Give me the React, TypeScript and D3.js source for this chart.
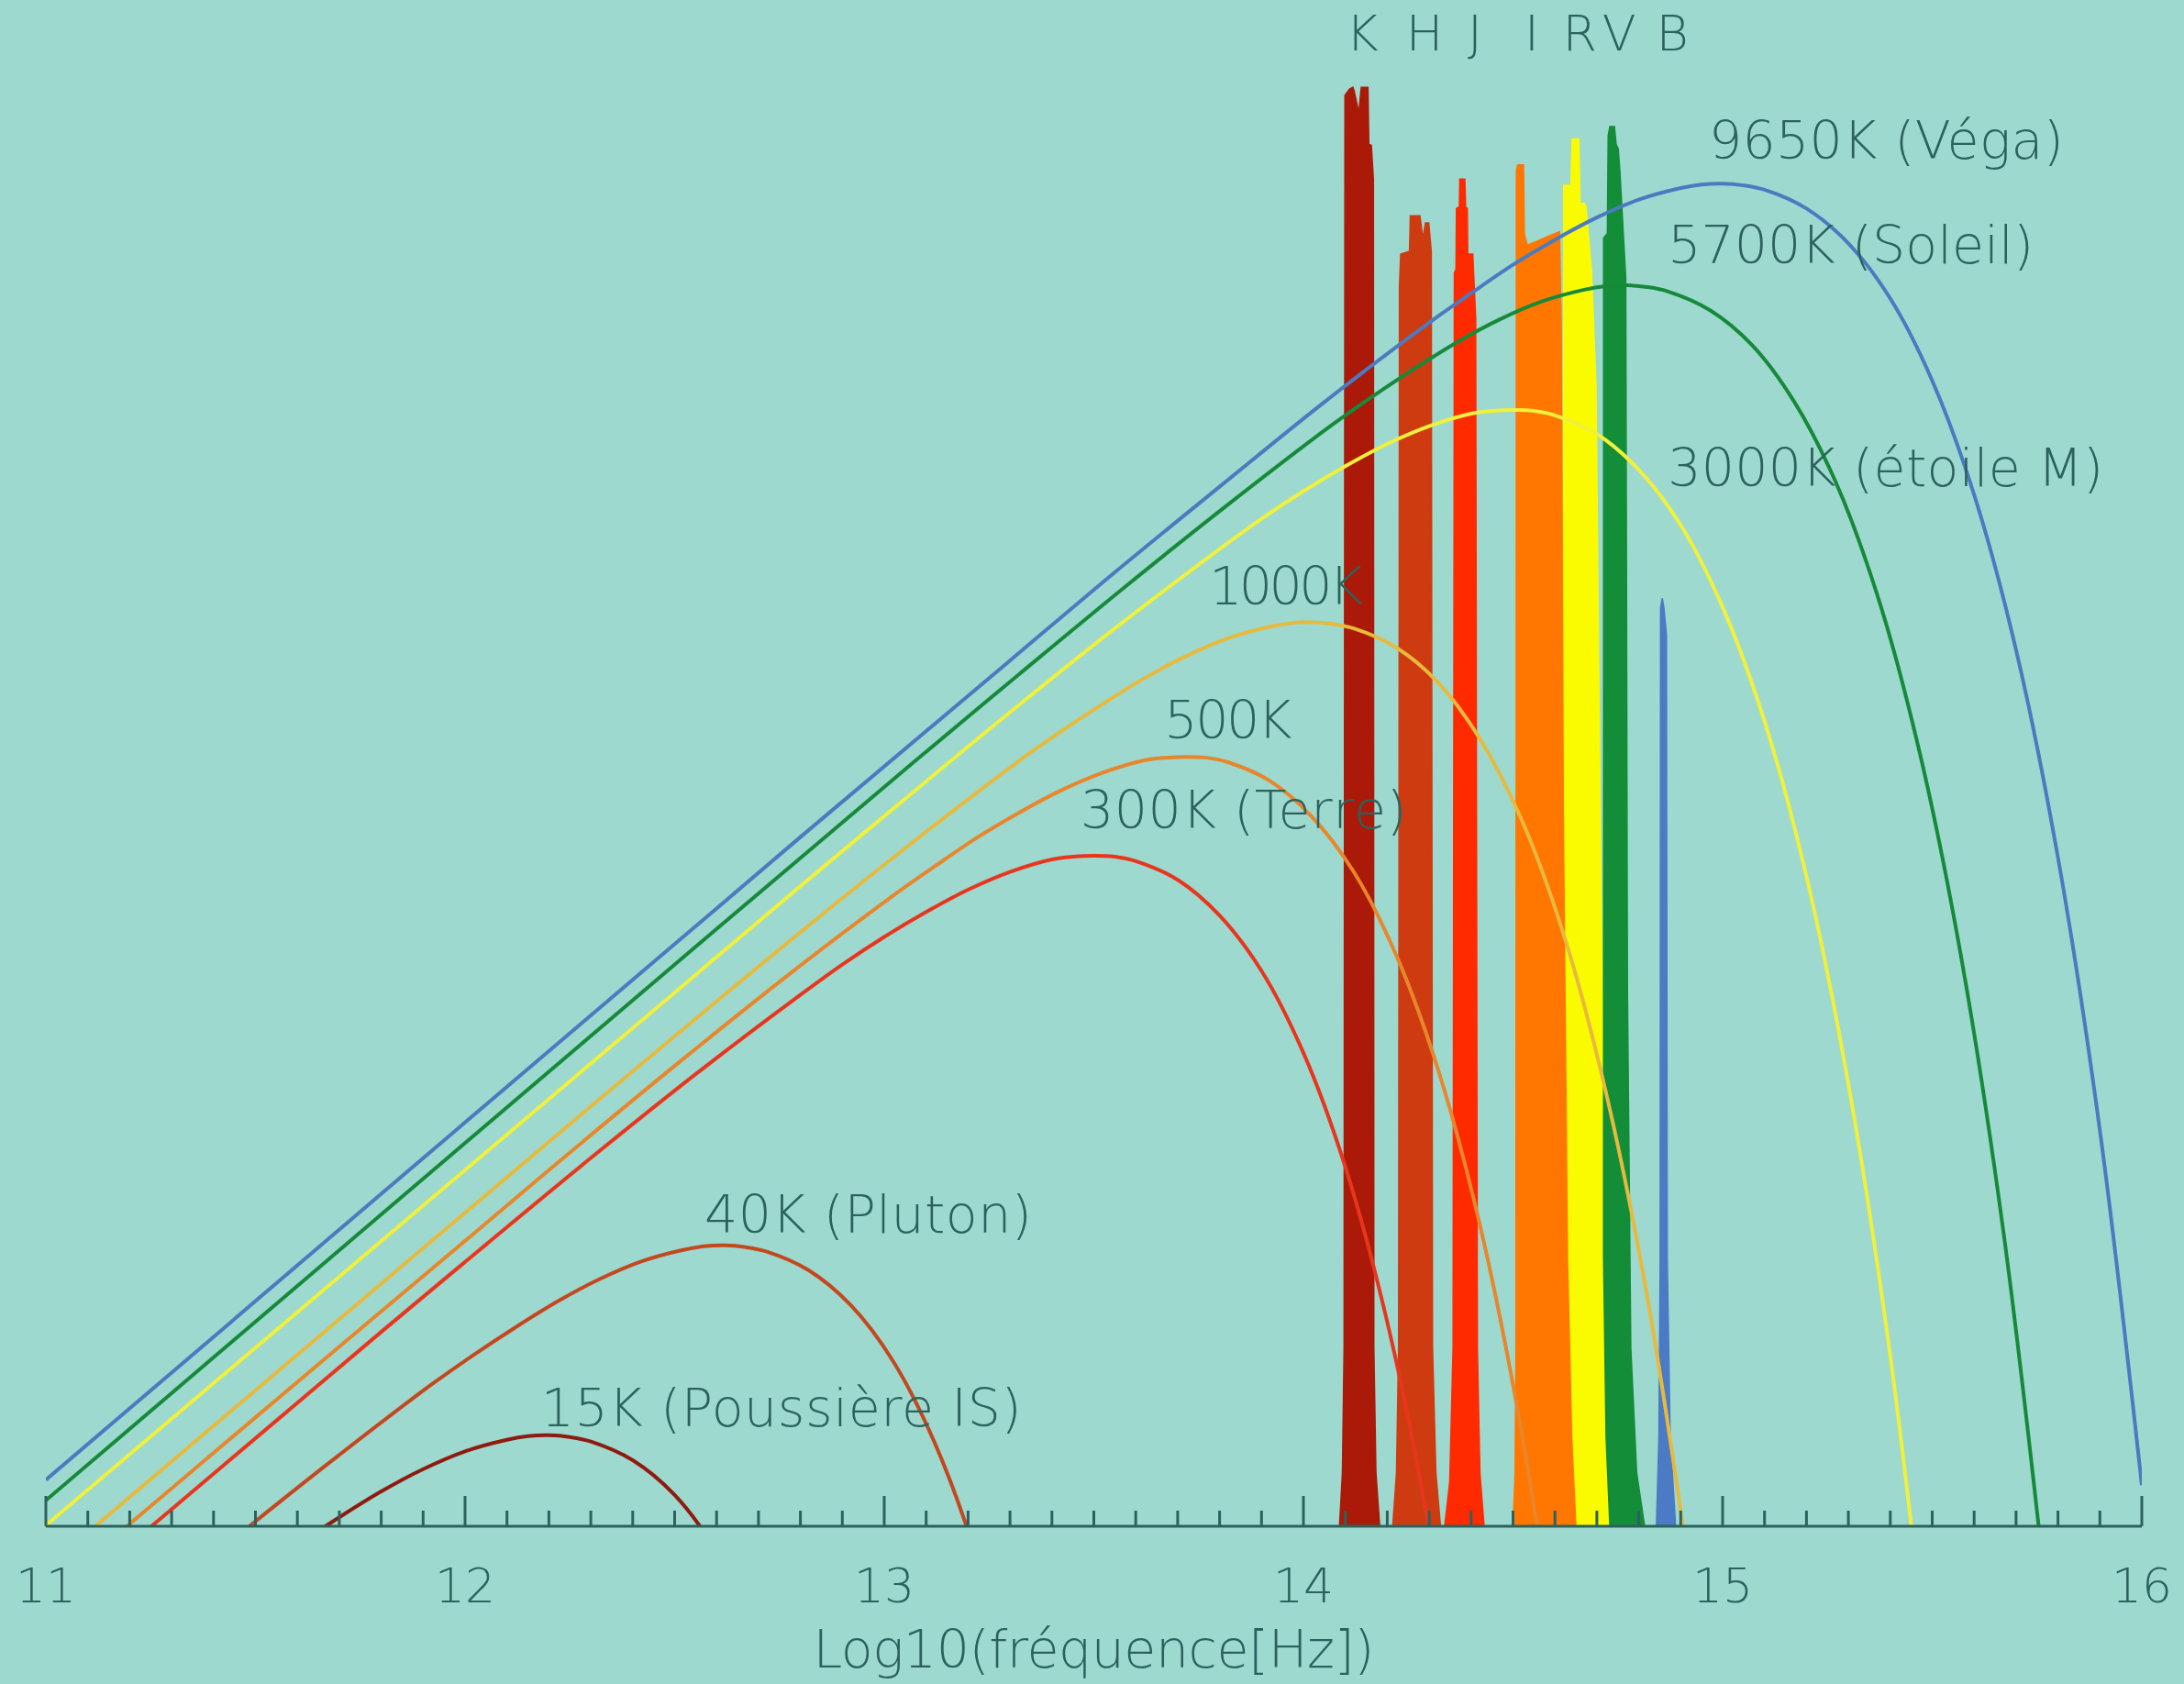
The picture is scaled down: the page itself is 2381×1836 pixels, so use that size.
import React from 'react';
import * as d3 from 'd3';

// ---- Data (x = log10 frequency [Hz], v = log10 intensity, arbitrary zero at the axis) ----
const curve9650: number[][] = [[11.00,0.52],[12.80,7.73],[13.30,9.71],[13.55,10.70],[13.80,11.66],[14.05,12.61],[14.30,13.50],[14.40,13.83],[14.50,14.15],[14.60,14.43],[14.70,14.68],[14.80,14.88],[14.90,15.01],[14.95,15.05],[15.00,15.06],[15.05,15.04],[15.10,14.99],[15.20,14.78],[15.30,14.39],[15.40,13.77],[15.50,12.85],[15.60,11.57],[15.70,9.83],[15.80,7.50],[15.90,4.44],[16.00,0.46]];
const curve5700: number[][] = [[11.00,0.29],[12.57,6.58],[13.07,8.57],[13.32,9.55],[13.57,10.52],[13.82,11.46],[14.07,12.36],[14.17,12.69],[14.27,13.00],[14.37,13.29],[14.47,13.54],[14.57,13.74],[14.67,13.87],[14.72,13.91],[14.77,13.92],[14.82,13.90],[14.87,13.85],[14.97,13.64],[15.07,13.25],[15.17,12.62],[15.27,11.71],[15.37,10.43],[15.47,8.68],[15.57,6.36],[15.67,3.30],[15.77,-0.68]];
const curve3000: number[][] = [[11.00,0.01],[12.30,5.19],[12.80,7.18],[13.05,8.16],[13.30,9.13],[13.55,10.07],[13.80,10.96],[13.90,11.30],[14.00,11.61],[14.10,11.89],[14.20,12.14],[14.30,12.34],[14.40,12.48],[14.45,12.51],[14.50,12.52],[14.55,12.51],[14.60,12.46],[14.70,12.25],[14.80,11.85],[14.90,11.23],[15.00,10.31],[15.10,9.03],[15.20,7.29],[15.30,4.96],[15.40,1.91],[15.50,-2.07]];
const curve1000: number[][] = [[11.00,-0.47],[11.82,2.80],[12.32,4.79],[12.57,5.77],[12.82,6.74],[13.07,7.68],[13.32,8.58],[13.42,8.91],[13.52,9.22],[13.62,9.51],[13.72,9.76],[13.82,9.96],[13.92,10.09],[13.97,10.13],[14.02,10.14],[14.07,10.12],[14.12,10.07],[14.22,9.86],[14.32,9.47],[14.42,8.84],[14.52,7.93],[14.62,6.65],[14.72,4.90],[14.82,2.58],[14.92,-0.48]];
const curve500: number[][] = [[11.00,-0.77],[11.52,1.30],[12.02,3.28],[12.27,4.27],[12.52,5.24],[12.77,6.18],[13.02,7.07],[13.12,7.40],[13.22,7.72],[13.32,8.00],[13.42,8.25],[13.52,8.45],[13.62,8.59],[13.67,8.62],[13.72,8.63],[13.77,8.62],[13.82,8.57],[13.92,8.36],[14.02,7.96],[14.12,7.34],[14.22,6.42],[14.32,5.14],[14.42,3.40],[14.52,1.07],[14.62,-1.98]];
const curve300: number[][] = [[11.00,-0.99],[11.30,0.19],[11.80,2.18],[12.05,3.16],[12.30,4.13],[12.55,5.07],[12.80,5.96],[12.90,6.30],[13.00,6.61],[13.10,6.89],[13.20,7.14],[13.30,7.34],[13.40,7.48],[13.45,7.51],[13.50,7.52],[13.55,7.51],[13.60,7.46],[13.70,7.25],[13.80,6.85],[13.90,6.23],[14.00,5.31],[14.10,4.03],[14.20,2.29],[14.30,-0.04],[14.40,-3.09]];
const curve40: number[][] = [[11.00,-1.89],[11.17,-1.22],[11.42,-0.25],[11.67,0.69],[11.92,1.59],[12.02,1.92],[12.12,2.23],[12.22,2.52],[12.32,2.77],[12.42,2.97],[12.52,3.10],[12.57,3.14],[12.62,3.15],[12.67,3.13],[12.72,3.08],[12.82,2.87],[12.92,2.48],[13.02,1.86],[13.12,0.94],[13.22,-0.34],[13.32,-2.09]];
const curve15: number[][] = [[11.00,-2.36],[11.25,-1.44],[11.50,-0.54],[11.60,-0.21],[11.70,0.10],[11.80,0.39],[11.90,0.64],[12.00,0.84],[12.10,0.97],[12.15,1.01],[12.20,1.02],[12.25,1.00],[12.30,0.95],[12.40,0.74],[12.50,0.35],[12.60,-0.28],[12.70,-1.19]];

// photometric band profiles (filled)
const bandK: number[][] = [[14.086,0],[14.093,0.6],[14.097,2],[14.099,16.05],[14.110,16.12],[14.118,16.14],[14.121,16.1],[14.130,15.9],[14.133,15.9],[14.138,16.14],[14.154,16.14],[14.156,15.5],[14.162,15.49],[14.167,15.1],[14.168,2],[14.173,0.6],[14.182,0]];
const bandH: number[][] = [[14.213,0],[14.222,0.6],[14.227,2],[14.229,13.9],[14.232,14.27],[14.253,14.30],[14.255,14.70],[14.278,14.70],[14.285,14.44],[14.291,14.62],[14.299,14.62],[14.305,14.3],[14.308,2],[14.316,0.6],[14.327,0]];
const bandJ: number[][] = [[14.337,0],[14.349,0.5],[14.357,2],[14.360,14.06],[14.364,14.1],[14.365,14.78],[14.372,14.80],[14.373,15.11],[14.385,15.11],[14.387,14.80],[14.391,14.78],[14.392,14.27],[14.404,14.27],[14.406,14.06],[14.411,13.55],[14.415,2],[14.421,0.6],[14.431,0]];
const bandR: number[][] = [[14.618,0],[14.620,2],[14.621,15.04],[14.638,15.04],[14.641,15.56],[14.657,15.56],[14.660,14.84],[14.670,14.84],[14.674,14.8],[14.687,14.1],[14.698,12.8],[14.708,8],[14.718,4],[14.726,1.5],[14.733,0]];
const bandI: number[][] = [[14.500,0],[14.505,0.6],[14.507,2],[14.508,15.2],[14.511,15.27],[14.525,15.27],[14.527,14.5],[14.534,14.37],[14.55,14.40],[14.57,14.44],[14.59,14.48],[14.611,14.52],[14.615,13.5],[14.620,8],[14.630,3],[14.640,1],[14.650,0]];
const bandV: number[][] = [[14.731,0],[14.722,1],[14.716,3],[14.716,14.45],[14.725,14.5],[14.727,15.6],[14.731,15.70],[14.742,15.70],[14.746,15.5],[14.751,15.45],[14.755,15.2],[14.769,14.0],[14.773,6],[14.781,2],[14.795,0.6],[14.814,0]];
const bandB: number[][] = [[14.842,0],[14.848,1],[14.851,3],[14.852,10.3],[14.856,10.41],[14.860,10.3],[14.866,10.0],[14.868,3],[14.875,1],[14.888,0]];

const bandLetters = ['K', 'H', 'J', 'I', 'R', 'V', 'B'];
const bandLetterX = [14.140, 14.289, 14.409, 14.545, 14.659, 14.753, 14.880];

const xTickValues = [11, 12, 13, 14, 15, 16];

const curveLabels = ['9650K (Véga)', '5700K (Soleil)', '3000K (étoile M)', '1000K', '500K', '300K (Terre)', '40K (Pluton)', '15K (Poussière IS)'];

// ---- layout / style ----
const W = 2381, H = 1836;
const BG = '#9dd9cf';
const INK = '#2c625e';
const FONT = '"DejaVu Sans", sans-serif';

const curves = [
  { d: curve15, color: '#8f1b10' },
  { d: curve40, color: '#c4481f' },
  { d: curve300, color: '#e8361e' },
  { d: curve500, color: '#e8862c' },
  { d: curve1000, color: '#e7ba3e' },
  { d: curve3000, color: '#f1f03a' },
  { d: curve5700, color: '#17893a' },
  { d: curve9650, color: '#4a7bc0' },
];

const bands = [
  { d: bandK, color: '#ab1a08' },
  { d: bandH, color: '#cf3b10' },
  { d: bandJ, color: '#ff2a00' },
  { d: bandR, color: '#fbfb00' },
  { d: bandI, color: '#ff7700' },
  { d: bandV, color: '#138d38' },
  { d: bandB, color: '#4a7bc4' },
];

// label anchors (left x in data units, baseline in data units) and target widths (px)
const labelPos = [
  { x: 14.967, v: 15.34, w: 387 },
  { x: 14.869, v: 14.17, w: 399 },
  { x: 14.869, v: 11.67, w: 475 },
  { x: 13.775, v: 10.34, w: 168 },
  { x: 13.668, v: 8.84, w: 139 },
  { x: 13.468, v: 7.83, w: 356 },
  { x: 12.571, v: 3.29, w: 357 },
  { x: 12.181, v: 1.12, w: 524 },
];

export default function App() {
  const x = d3.scaleLinear().domain([11, 16]).range([50, 2335]);
  const y = d3.scaleLinear().domain([0, 17]).range([1664, 11.6]);
  const line = d3.line<number[]>().x(d => x(d[0])).y(d => y(d[1])).curve(d3.curveCatmullRom.alpha(0.5));
  const poly = d3.line<number[]>().x(d => x(d[0])).y(d => y(d[1]));
  const minor = d3.range(110, 161).map(i => i / 10);

  return (
    <svg width={W} height={H} style={{ position: 'absolute', left: 0, top: 0, display: 'block' }}>
      <defs>
        <clipPath id="plotclip">
          <rect x={x(11)} y={0} width={x(16) - x(11)} height={y(0)} />
        </clipPath>
      </defs>
      <rect x={0} y={0} width={W} height={H} fill={BG} />
      <g clipPath="url(#plotclip)">
        {bands.map((b, i) => (
          <path key={'b' + i} d={poly(b.d) + 'Z'} fill={b.color} stroke={b.color} strokeWidth={1.5} />
        ))}
        {curves.map((c, i) => (
          <path key={'c' + i} d={line(c.d) || ''} fill="none" stroke={c.color} strokeWidth={4} />
        ))}
      </g>
      {/* axis */}
      <g stroke={INK} strokeWidth={3}>
        <line x1={x(11)} x2={x(16)} y1={y(0)} y2={y(0)} />
        {minor.map(t => (
          <line key={'m' + t} x1={x(t)} x2={x(t)} y1={y(0)} y2={y(0) - (Math.abs(t - Math.round(t)) < 1e-6 ? 33 : 17)} />
        ))}
      </g>
      <g fill={INK} fontFamily={FONT} fontWeight={200} fontSize={52} textAnchor="middle">
        {xTickValues.map(t => (
          <text key={'t' + t} x={x(t)} y={1747}>{t}</text>
        ))}
        <text x={x(13.5)} y={1818} fontSize={57} textLength={612} lengthAdjust="spacing">Log10(fréquence[Hz])</text>
        {bandLetters.map((l, i) => (
          <text key={'l' + l} x={x(bandLetterX[i])} y={55} fontSize={54}>{l}</text>
        ))}
      </g>
      <g fill={INK} fontFamily={FONT} fontWeight={200} fontSize={57}>
        {curveLabels.map((t, i) => (
          <text key={'cl' + i} x={x(labelPos[i].x)} y={y(labelPos[i].v)} textLength={labelPos[i].w} lengthAdjust="spacing">{t}</text>
        ))}
      </g>
    </svg>
  );
}
